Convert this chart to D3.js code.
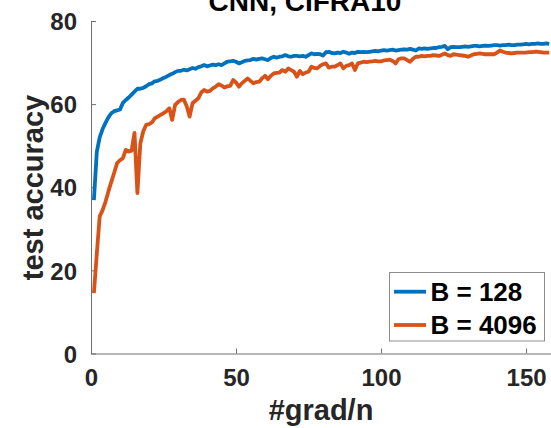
<!DOCTYPE html>
<html>
<head>
<meta charset="utf-8">
<script src="https://cdn.jsdelivr.net/npm/d3@7"></script>
<style>
  html, body { margin: 0; padding: 0; background: #fff; }
  svg { display: block; font-family: "Liberation Sans", Arial, Helvetica, sans-serif; font-weight: bold; }
</style>
</head>
<body>
<svg id="chart" width="551" height="428"></svg>
<script>
// Test accuracy per pass over the data (#grad/n), two batch sizes
const gradN = [1,2,3,4,5,6,7,8,9,10,11,12,13,14,15,16,17,18,19,20,21,22,23,24,25,26,27,28,29,30,
  31,32,33,34,35,36,37,38,39,40,41,42,43,44,45,46,47,48,49,50,51,52,53,54,55,56,57,58,59,60,
  61,62,63,64,65,66,67,68,69,70,71,72,73,74,75,76,77,78,79,80,81,82,83,84,85,86,87,88,89,90,
  91,92,93,94,95,96,97,98,99,100,101,102,103,104,105,106,107,108,109,110,111,112,113,114,115,116,117,118,119,120,
  121,122,123,124,125,126,127,128,129,130,131,132,133,134,135,136,137,138,139,140,141,142,143,144,145,146,147,148,149,150,
  151,152,153,154,155,156,157,158];

const accB128 = [36.9,48.5,52,54,55.5,56.8,57.8,58.3,58.5,58.7,60.3,61,61.6,62.3,63,63.7,63.7,63.9,64.3,64.8,
  65,65.5,65.6,65.9,66.3,66.6,67,67.3,67.7,68,68,68.3,68.1,68.4,68.7,68.5,68.9,69.1,69.4,69.1,
  69.3,69.5,69.4,69.6,69.4,69.8,70.2,70.3,70.4,70.2,69.8,70.1,70.4,70.5,70.6,70.9,70.7,70.9,71,70.8,
  70.6,71.1,71.4,71.2,71.4,71.5,71.8,71.5,71.4,71.6,71.6,71.5,71.6,71.4,71.8,72.2,72,72.1,72,71.7,
  72.5,72.6,72.3,72.2,72.4,72.3,72.6,72.4,72.1,72.4,72.3,72.6,72.5,72.6,72.5,72.6,72.7,72.8,72.7,72.9,
  73,72.9,73,73.1,72.9,73,73.1,73.2,73.1,73.3,73.1,72.9,73.4,73.3,73.4,73.3,73.4,73.5,73.5,73.7,
  73.8,74,73.2,73.7,73.8,73.7,73.7,73.8,73.9,73.8,73.9,74,74,73.9,74,74.1,74,74.1,74.2,74.2,
  74.1,74.2,74.2,74.3,74.2,74.2,74.3,74.3,74.4,74.5,74.4,74.5,74.5,74.6,74.5,74.5,74.6,74.5];

const accB4096 = [14.5,24,33,34.5,36.5,39,41.3,43.5,45.8,46.5,47,49,48.6,48.8,53.1,38.6,50.5,53.4,55,55.2,
  55.6,56.6,57,57.4,57.8,58.3,59,56.2,59.8,60.5,61,61.1,59.5,57,60.2,60.8,61.4,62.8,63.4,63,
  63.2,63.8,64.2,64.8,64.5,64,64.3,64.4,65.8,65.2,64.2,65,65.6,66.2,65.6,65,65.3,65.4,66.2,66.8,
  66,66.8,67.4,67.5,67.6,68.2,67.8,68.6,68.2,67.8,66.6,68,67.2,67.6,67.8,69,68.7,68.6,69.2,69.6,
  69.8,68.8,69,69,69.4,69.8,68.6,69.2,69.4,69.8,68.2,69.8,70,70.2,70.1,70.2,70.3,70.4,70.3,70.3,
  70.5,70.6,70.7,70.4,69.8,70.8,71,71,70.6,70.2,70.9,71.4,71.4,71.6,71.5,71.6,71.6,71.8,71.7,71.6,
  71.9,72.2,71.8,71.6,72,71.9,71.8,71.7,71.6,71.4,71.7,72,72.1,72.2,72.1,72,72,72,72,72.4,
  72.9,72.6,72.4,72.3,72.2,72.3,72.4,72.4,72.4,72.4,72.5,72.5,72.6,72.6,72.5,72.4,72.4,72.4];

const seriesNames = ["B = 128", "B = 4096"];
const seriesColors = ["#0072BD", "#D95319"];
const xTicks = [0, 50, 100, 150];
const yTicks = [0, 20, 40, 60, 80];
const titleText = "CNN, CIFRA10";
const xLabelText = "#grad/n";
const yLabelText = "test accuracy";

const svg = d3.select("#chart");
const plotLeft = 91, plotRight = 551, plotTop = 21, plotBottom = 353.5;

const x = d3.scaleLinear().domain([0, 158.6]).range([plotLeft, plotRight]);
const y = d3.scaleLinear().domain([0, 80]).range([plotBottom, plotTop]);

const axisColor = "#6e6e6e";
const textColor = "#262626";

// y axis: ticks pointing into the plot
const yAxis = svg.append("g")
  .attr("transform", `translate(${plotLeft},0)`)
  .call(d3.axisLeft(y).tickValues(yTicks).tickSize(-5).tickPadding(14).tickSizeOuter(0));
// x axis
const xAxis = svg.append("g")
  .attr("transform", `translate(0,${plotBottom})`)
  .call(d3.axisBottom(x).tickValues(xTicks).tickSize(-5).tickPadding(15).tickSizeOuter(0));

[xAxis, yAxis].forEach(g => {
  g.select(".domain").attr("stroke", axisColor).attr("stroke-width", 1);
  g.selectAll(".tick line").attr("stroke", axisColor).attr("stroke-width", 1);
  g.selectAll(".tick text")
    .attr("fill", textColor)
    .style("font-size", "24px")
    .style("font-weight", "bold")
    .style("font-family", '"Liberation Sans", Arial, sans-serif');
});
yAxis.selectAll(".tick text").attr("dy", "0.36em");
xAxis.selectAll(".tick text").attr("dy", "0.72em");

// curves
const line = d3.line()
  .x((d, i) => x(gradN[i]))
  .y(d => y(d));

[accB128, accB4096].forEach((vals, k) => {
  svg.append("path")
    .datum(vals)
    .attr("fill", "none")
    .attr("stroke", seriesColors[k])
    .attr("stroke-width", 3.8)
    .attr("stroke-linejoin", "round")
    .attr("d", line);
});

// title and axis labels
svg.append("text")
  .attr("x", 305).attr("y", 11)
  .attr("text-anchor", "middle")
  .attr("fill", "#000")
  .style("font-size", "28px")
  .text(titleText);

svg.append("text")
  .attr("x", 321).attr("y", 420)
  .attr("text-anchor", "middle")
  .attr("fill", textColor)
  .style("font-size", "29px")
  .text(xLabelText);

svg.append("text")
  .attr("transform", "translate(43,187.5) rotate(-90)")
  .attr("text-anchor", "middle")
  .attr("fill", textColor)
  .style("font-size", "29px")
  .text(yLabelText);

// legend
const legend = svg.append("g");
legend.append("rect")
  .attr("x", 389.5).attr("y", 272.5)
  .attr("width", 155).attr("height", 68.5)
  .attr("fill", "#fff")
  .attr("stroke", "#8c8c8c")
  .attr("stroke-width", 1);

const rowY = [291.7, 325];
seriesNames.forEach((name, k) => {
  legend.append("line")
    .attr("x1", 394).attr("x2", 426)
    .attr("y1", rowY[k]).attr("y2", rowY[k])
    .attr("stroke", seriesColors[k])
    .attr("stroke-width", 3.8);
  legend.append("text")
    .attr("x", 430.5).attr("y", rowY[k])
    .attr("dy", "0.36em")
    .attr("fill", "#000")
    .style("font-size", "26px")
    .text(name);
});
</script>
</body>
</html>
